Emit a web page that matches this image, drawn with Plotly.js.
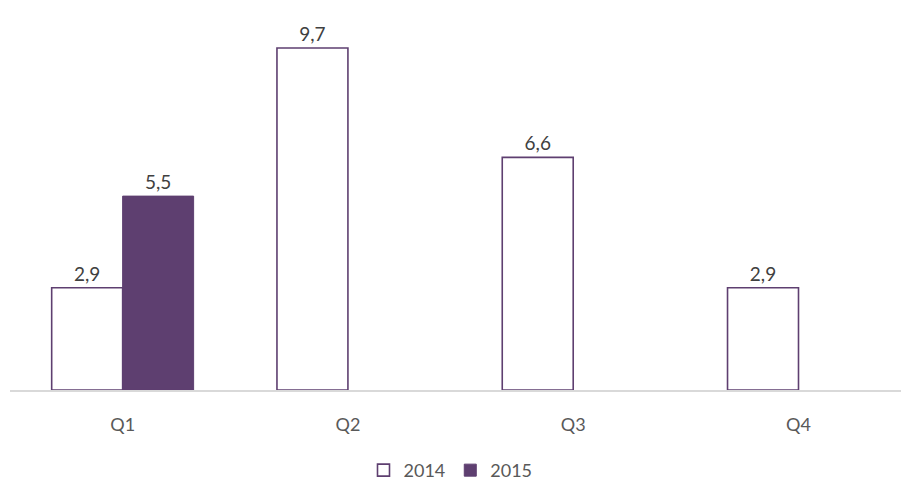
<!DOCTYPE html>
<html>
<head>
<meta charset="utf-8">
<script src="https://cdn.plot.ly/plotly-3.0.1.min.js"></script>
<style>html,body{margin:0;padding:0;background:#fff;}#chart{width:901px;height:483px;}</style>
</head>
<body>
<div id="chart"></div>
<script>
var categories = ["Q1", "Q2", "Q3", "Q4"];
var series2014 = [2.9, 9.7, 6.6, 2.9];
var series2015 = [5.5, null, null, null];
var seriesNames = ["2014", "2015"];

var purple = "#5E3F70";
var font = "Lato, 'Open Sans', sans-serif";

var traces = [
  {
    type: "bar", name: seriesNames[0], x: categories, y: series2014,
    marker: {color: "#ffffff", line: {color: purple, width: 1.6}},
    texttemplate: "%{y:.1f}", textposition: "outside", cliponaxis: false,
    textfont: {family: font, size: 19, color: "#404040"}
  },
  {
    type: "bar", name: seriesNames[1], x: categories, y: series2015,
    marker: {color: purple, line: {color: purple, width: 1}},
    texttemplate: "%{y:.1f}", textposition: "outside", cliponaxis: false,
    textfont: {family: font, size: 19, color: "#404040"}
  }
];

var layout = {
  width: 901, height: 483,
  margin: {l: 10, r: 0, t: 10, b: 93},
  paper_bgcolor: "#ffffff", plot_bgcolor: "#ffffff",
  separators: ",.",
  barmode: "group", bargap: 0.37, bargroupgap: 0,
  font: {family: font, size: 18, color: "#595959"},
  xaxis: {
    range: [-0.5, 3.455], showgrid: false, zeroline: false,
    showline: true, linecolor: "#d9d9d9", linewidth: 1.5,
    ticks: "", ticklabelstandoff: 18,
    tickfont: {family: font, size: 18, color: "#595959"}
  },
  yaxis: {range: [0, 10.78], visible: false, showgrid: false, zeroline: false},
  showlegend: true,
  legend: {
    orientation: "h", xref: "container", yref: "container",
    x: 0.5, xanchor: "center", y: 0.026, yanchor: "middle",
    font: {family: font, size: 18, color: "#595959"}, itemwidth: 30
  }
};

Plotly.newPlot("chart", traces, layout, {displayModeBar: false, staticPlot: true});
</script>
</body>
</html>
